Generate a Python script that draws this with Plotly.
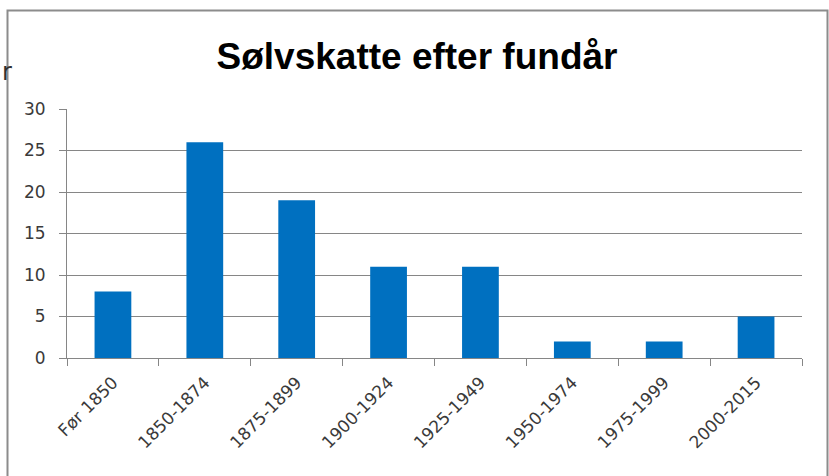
import plotly.graph_objects as go

categories = ["Før 1850", "1850-1874", "1875-1899", "1900-1924", "1925-1949", "1950-1974", "1975-1999", "2000-2015"]
values = [8, 26, 19, 11, 11, 2, 2, 5]
y_ticks = [0, 5, 10, 15, 20, 25, 30]

W, H = 829, 476
L, R, T, B = 67, 27, 109, 118
pw, ph = W - L - R, H - T - B

def px_x(x):
    return (x - L) / pw

def px_y(y):
    return (H - B - y) / ph

tick_font = dict(family="DejaVu Sans, Verdana, sans-serif", size=17, color="#3a3a3a")

fig = go.Figure()
fig.add_trace(go.Bar(x=categories, y=values, marker=dict(color="#0070C0", line=dict(width=0)), width=0.4))

fig.update_layout(
    width=W, height=H,
    margin=dict(l=L, r=R, t=T, b=B, autoexpand=False),
    paper_bgcolor="white", plot_bgcolor="white",
    showlegend=False,
    title=dict(text="<b>Sølvskatte efter fundår</b>", x=417 / W, xanchor="center",
               y=1 - 56 / H, yanchor="middle",
               font=dict(family="Liberation Sans, Arial, sans-serif", size=37, color="#000000")),
    font=tick_font,
    bargap=0.6,
)
fig.update_xaxes(
    tickangle=-45, tickson="boundaries", ticks="outside", ticklen=7, tickcolor="#868686",
    showline=True, linecolor="#868686", linewidth=1, showgrid=False,
    ticklabelstandoff=7, tickfont=tick_font,
)
fig.update_yaxes(
    range=[0, 30], tickvals=y_ticks, ticks="outside", ticklen=7, tickcolor="#868686",
    showline=True, linecolor="#868686", linewidth=1,
    showgrid=True, gridcolor="#868686", gridwidth=1, zeroline=False,
    ticklabelstandoff=10, tickfont=tick_font,
)
fig.add_shape(type="rect", xref="paper", yref="paper",
              x0=px_x(7.5), x1=px_x(827.5), y0=px_y(H + 20), y1=px_y(10.5),
              line=dict(color="#8c8c8c", width=2), fillcolor="rgba(0,0,0,0)", layer="above")
fig.add_annotation(text="r", xref="paper", yref="paper", x=px_x(0), y=px_y(72),
                   xanchor="left", yanchor="middle", showarrow=False,
                   font=dict(family="DejaVu Sans, sans-serif", size=24, color="#303030"))

fig.write_html("out.html", config={"displayModeBar": False},
               post_script="document.body.style.margin='0px';document.body.style.overflow='hidden';")
